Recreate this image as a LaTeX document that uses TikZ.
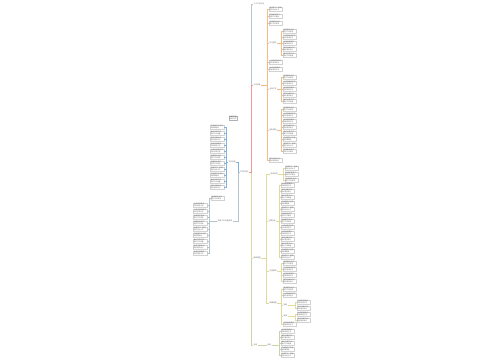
\documentclass[tikz,border=0pt]{standalone}
\usepackage{fontspec}
\newfontfamily\cjk{Noto Sans CJK SC}
\XeTeXlinebreaklocale "zh"
\XeTeXlinebreakskip=0pt plus 1pt
\usetikzlibrary{positioning}

\definecolor{blueline}{HTML}{7FB2DE}
\definecolor{greyline}{HTML}{B4C4CC}
\definecolor{redline}{HTML}{EE9A9A}
\definecolor{orangeline}{HTML}{F5BC85}
\definecolor{yellowline}{HTML}{E2DA9A}
\definecolor{greenline}{HTML}{C6D6A6}
\definecolor{txt}{HTML}{666666}

\tikzset{
  leaf/.style={draw=gray!35, line width=0.3pt, fill=white, text=txt,
    font=\cjk\fontsize{2.3}{2.8}\selectfont, inner sep=0.6pt,
    text width=6.3mm, align=left},
  mid/.style={text=txt, font=\cjk\fontsize{2.5}{3}\selectfont, inner sep=0.6pt},
  rootnode/.style={text=txt, font=\cjk\fontsize{2.8}{3.2}\selectfont, inner sep=0.6pt},
  titlebox/.style={draw=gray!60, line width=0.3pt, text=txt, align=center,
    font=\cjk\fontsize{2.5}{3}\selectfont, inner sep=0.6pt},
  link/.style={line width=0.5pt},
}

\newcommand\leaftext[1]{\ifcase#1 加强学习，提高自身业务水平\or
  认真完成领导交办的各项任务\or 做好日常工作，保证工作质量\or
  积极配合部门，完成工作目标\or 总结经验教训，不断改进方法\or
  严格遵守公司各项规章制度\or 加强团队协作，提升工作效率\or
  制定详细计划，按时落实执行\fi}

% children on the right of #1
\newcommand\rightkids[6]{%
  \coordinate (#2bx) at (#6,0);
  \foreach \yy [count=\i] in {#4} {
    \pgfmathtruncatemacro\k{mod(\i*3+#3,8)}
    \node[leaf,anchor=west] at (#3,\yy) (#2\i) {\leaftext{\k}};
    \draw[link,#5] (#1.east) -- (#1.east -| #2bx) |- (#2\i.west);
  }%
}
% children on the left of #1
\newcommand\leftkids[6]{%
  \coordinate (#2bx) at (#6,0);
  \foreach \yy [count=\i] in {#4} {
    \pgfmathtruncatemacro\k{mod(\i*5+#3,8)}
    \node[leaf,anchor=east] at (#3,\yy) (#2\i) {\leaftext{\k}};
    \draw[link,#5] (#1.west) -- (#1.west -| #2bx) |- (#2\i.east);
  }%
}

\begin{document}
\begin{tikzpicture}[x=0.5mm,y=-0.5mm]
    \useasboundingbox[fill=white] (0,0) rectangle (500,360);

    \node[rootnode] at (244,172) (root) {工作计划};
    \node[titlebox] at (233,118) (title) {年度工作\\计划范文};

    % left side
    \node[mid] at (232,162) (l1) {工作总结};
    \node[mid] at (225,221) (l2) {具体工作内容安排};
    \leftkids{l1}{la}{224}{127,133,...,187}{blueline}{226}
    \leftkids{l2}{lb}{207}{205,211,...,253}{greyline}{209}
    \node[leaf,anchor=west] at (211,198) (lbtop) {\leaftext{6}};
    \draw[link,greyline] (l2.west) -- (l2.west -| lbbx) |- (lbtop.west);
    \draw[link,blueline] (root.west) -- ++(-1.5,0) |- (l1.east);
    \draw[link,greyline] (root.west) -- ++(-1.5,0) |- (l2.east);

    % right side
    \coordinate (trunk) at (251,0);
    \node[mid,anchor=west] at (253,4) (r0) {个人工作计划};
    \node[mid,anchor=west] at (253,85) (r1) {工作目标};
    \node[mid,anchor=west] at (253,258) (r2) {具体措施};
    \node[mid,anchor=west] at (253,345) (r3) {总结};
    \foreach \n/\c in {r0/greyline,r3/greenline,r2/yellowline,r1/redline}
        \draw[link,\c] (root.east) -- (root.east -| trunk) |- (\n.west);

    % first branch
    \rightkids{r1}{ra}{269}{9,16,23,62,69,160}{orangeline}{267}
    \node[mid,anchor=west] at (269,43) (rd) {学习提升};
    \node[mid,anchor=west] at (269,89) (rg) {业务工作};
    \node[mid,anchor=west] at (269,130) (rh) {团队建设};
    \foreach \n in {rd,rg,rh}
        \draw[link,orangeline] (r1.east) -- (r1.east -| rabx) |- (\n.west);
    \rightkids{rd}{rda}{283}{31,37,...,55}{orangeline}{281}
    \rightkids{rg}{rga}{283}{77,83,...,101}{orangeline}{281}
    \rightkids{rh}{rha}{283}{109,115,...,151}{orangeline}{281}

    % second branch
    \coordinate (r2bx) at (266,0);
    \node[mid,anchor=west] at (270,174) (s1) {时间安排};
    \node[mid,anchor=west] at (268,221) (s2) {主要任务};
    \node[mid,anchor=west] at (269,271) (s3) {注意事项};
    \node[mid,anchor=west] at (269,303) (s4) {保障措施};
    \foreach \n in {s1,s2,s3,s4}
        \draw[link,yellowline] (r2.east) -- (r2.east -| r2bx) |- (\n.west);
    \rightkids{s1}{sa}{285}{168,174,180}{yellowline}{283}
    \rightkids{s2}{sb}{281}{185,191,...,257}{yellowline}{279}
    \rightkids{s3}{sc}{283}{263,269,275,281}{yellowline}{281}
    \rightkids{s4}{sd}{283}{289,295,324}{yellowline}{281}
    \node[mid,anchor=west] at (283,305) (s4x) {制度};
    \node[mid,anchor=west] at (283,316) (s4y) {考核};
    \foreach \n in {s4x,s4y}
        \draw[link,yellowline] (s4.east) -- (s4.east -| sdbx) |- (\n.west);
    \rightkids{s4x}{sx}{297}{302,308}{yellowline}{295}
    \rightkids{s4y}{sy}{297}{314,320}{yellowline}{295}

    % last branch
    \node[mid,anchor=west] at (267,345) (t1) {经验};
    \draw[link,greenline] (r3.east) -- (t1.west);
    \rightkids{t1}{ta}{281}{331,337,...,355}{greenline}{279}
\end{tikzpicture}
\end{document}
